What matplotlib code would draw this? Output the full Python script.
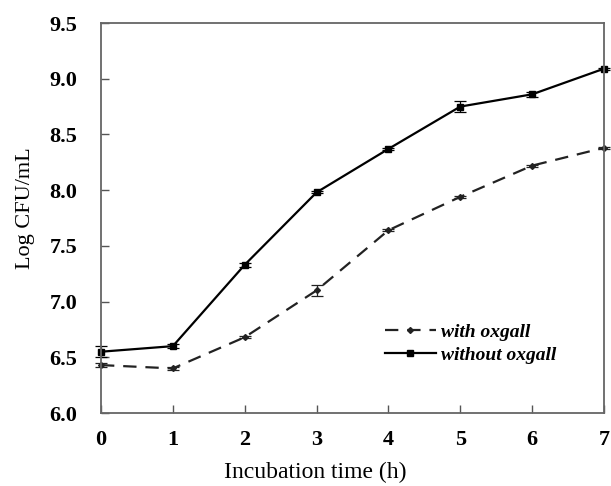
import matplotlib
matplotlib.use("Agg")
from matplotlib import pyplot as plt

hours = [0, 1, 2, 3, 4, 5, 6, 7]
with_oxgall = [6.43, 6.40, 6.68, 7.10, 7.64, 7.94, 8.22, 8.38]
with_err = [0.02, 0.01, 0.01, 0.05, 0.01, 0.01, 0.01, 0.01]
without_oxgall = [6.55, 6.60, 7.33, 7.98, 8.37, 8.75, 8.86, 9.09]
without_err = [0.05, 0.02, 0.02, 0.01, 0.01, 0.05, 0.02, 0.01]
yticks = [6.0, 6.5, 7.0, 7.5, 8.0, 8.5, 9.0, 9.5]

plt.rcParams['font.family'] = ['Liberation Serif', 'DejaVu Serif']

fig = plt.figure(figsize=(6.11, 4.86), dpi=100)
ax = fig.add_axes([101/611, 1 - 413/486, 503/611, 390/486])

ax.errorbar(hours, with_oxgall, yerr=with_err, color='#222222', ls=(0, (6, 4)), lw=1.6,
            marker='D', ms=3, capsize=4, elinewidth=0.9, capthick=0.9, label='with oxgall', clip_on=False)
ax.errorbar(hours, without_oxgall, yerr=without_err, color='black', ls='-', lw=1.6,
            marker='s', ms=5, capsize=4, elinewidth=0.9, capthick=0.9, label='without oxgall', clip_on=False)

ax.set_xlim(0, 7)
ax.set_ylim(6.0, 9.5)
ax.set_xticks(hours)
ax.set_yticks(yticks)
ax.set_xticklabels([str(h) for h in hours], fontweight='bold', fontsize=16)
ax.set_yticklabels(['%.1f' % v for v in yticks], fontweight='bold', fontsize=16)
ax.tick_params(direction='in', length=6, width=1, color='#555555')
ax.tick_params(axis='x', pad=12)
ax.tick_params(axis='y', pad=17)
for s in ax.spines.values():
    s.set_color('#666666')
    s.set_linewidth(1.3)

ax.set_xlabel('Incubation time (h)', fontsize=17)
ax.xaxis.set_label_coords(0.425, -0.125)
ax.set_ylabel('Log CFU/mL', fontsize=16)
ax.yaxis.set_label_coords(-0.132, 0.525)

handles, labels = ax.get_legend_handles_labels()
handles = [h[0] for h in handles]
ax.legend(handles, labels, loc='upper left', bbox_to_anchor=(0.53, 0.275), frameon=False,
          prop={'style': 'italic', 'weight': 'bold', 'size': 14}, handlelength=2.6,
          handletextpad=0.3, labelspacing=0.3)

fig.savefig('out.png', dpi=100)
